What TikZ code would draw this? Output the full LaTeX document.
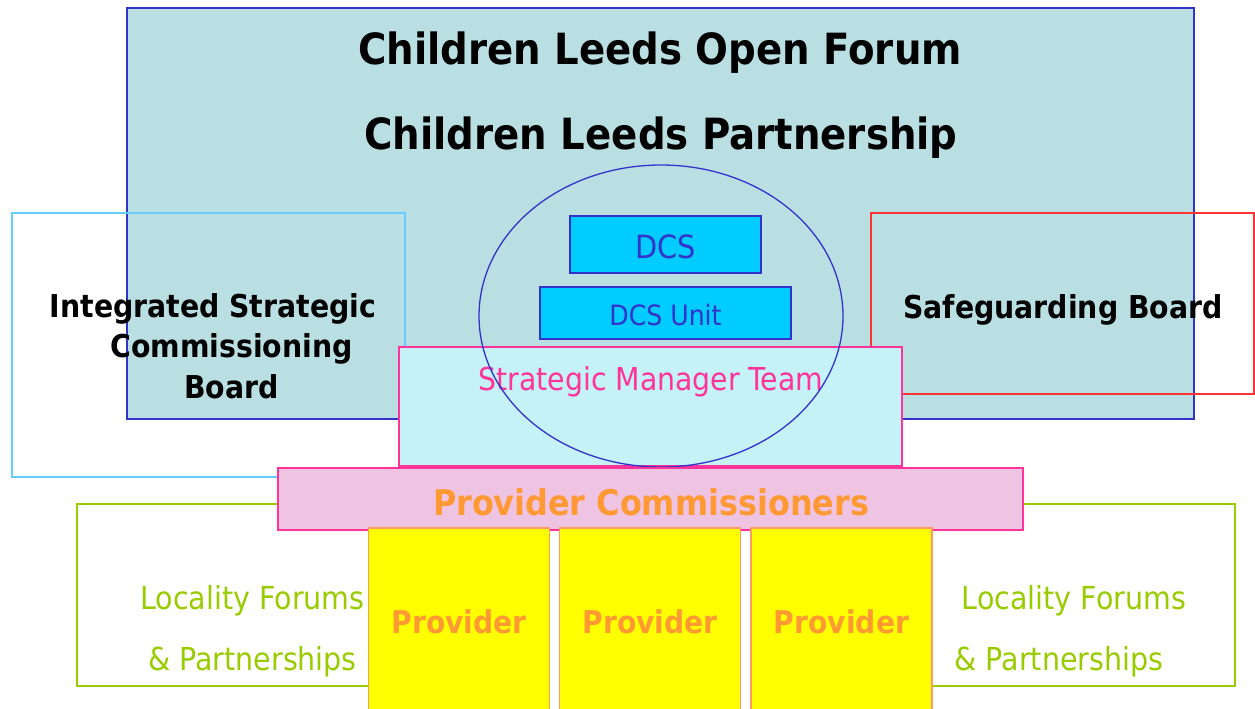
\documentclass[tikz,border=0pt]{standalone}
\usepackage{fontspec}
\setmainfont{DejaVu Sans Condensed}
\usetikzlibrary{shapes.geometric}

\definecolor{forumfill}{HTML}{BADFE3}
\definecolor{forumline}{HTML}{3333CC}
\definecolor{iscline}{HTML}{66CCFF}
\definecolor{safeline}{HTML}{FF3333}
\definecolor{dcsfill}{HTML}{00CCFF}
\definecolor{smtfill}{HTML}{C5F2F7}
\definecolor{pinkline}{HTML}{FF3399}
\definecolor{pcfill}{HTML}{EFC4E3}
\definecolor{orangetext}{HTML}{FF9933}
\definecolor{provline}{HTML}{FF9966}
\definecolor{provfill}{HTML}{FFFF00}
\definecolor{locgreen}{HTML}{99CC00}

\newcommand{\fsz}[2]{\fontsize{#1}{#2}\selectfont}

\begin{document}
\begin{tikzpicture}[x=1pt,y=-1pt,line width=1.3pt,
  box/.style={draw,rectangle,inner sep=0pt,outer sep=0pt},
  label/.style={inner sep=0pt,anchor=base}]
 \useasboundingbox (0,0) rectangle (1255,709);

 % top forum / partnership
 \node[box,draw=forumline,fill=forumfill,minimum width=1067pt,minimum height=411pt] (forum) at (660.5,213.5) {};
 \node[label,font=\fsz{43}{50}\bfseries] (openforum) at (660,64) {Children Leeds Open Forum};
 \node[label,font=\fsz{43}{50}\bfseries] (partnership) at (661,149) {Children Leeds Partnership};

 % side boards
 \node[box,draw=iscline,minimum width=393pt,minimum height=264pt] (isc) at (208.5,345) {};
 \node[inner sep=0pt,align=center,font=\fsz{31.5}{40.5}\bfseries] (isctext) at (231.5,346)
  {Integrated Strategic\hspace*{37pt}\\Commissioning\\Board};
 \node[box,draw=safeline,minimum width=383pt,minimum height=181pt] (safe) at (1062.5,303.5) {};
 \node[label,font=\fsz{31.5}{40}\bfseries] (safetext) at (1063,318) {Safeguarding Board};

 % DCS
 \node[box,draw=forumline,fill=dcsfill,minimum width=191pt,minimum height=57pt] (dcs) at (665.5,244.5) {};
 \node[label,text=forumline,font=\fsz{32}{38}] (dcstext) at (665.5,258) {DCS};
 \node[box,draw=forumline,fill=dcsfill,minimum width=251pt,minimum height=52pt] (dcsunit) at (665.5,313) {};
 \node[label,text=forumline,font=\fsz{28}{34}] (dcsunittext) at (665.5,325) {DCS Unit};

 % strategic manager team
 \node[box,draw=pinkline,fill=smtfill,minimum width=503pt,minimum height=119pt] (smt) at (650.5,406.5) {};
 \node[label,text=pinkline,font=\fsz{31.5}{38}] (smttext) at (651,390) {Strategic Manager Team};
 \node[draw=forumline,ellipse,inner sep=0pt,minimum width=364pt,minimum height=302pt] (ring) at (661,316) {};

 % locality forums
 \node[box,draw=locgreen,minimum width=323pt,minimum height=182pt] (locleft) at (238.5,595) {};
 \node[box,draw=locgreen,minimum width=335pt,minimum height=182pt] (locright) at (1067.5,595) {};
 \node[label,text=locgreen,font=\fsz{31.7}{38}] (locLa) at (252.5,609) {Locality Forums};
 \node[label,text=locgreen,font=\fsz{31.7}{38}] (locLb) at (252.5,670) {\& Partnerships};
 \node[label,text=locgreen,font=\fsz{31.7}{38}] (locRa) at (1074,609) {Locality Forums};
 \node[label,text=locgreen,font=\fsz{31.7}{38}] (locRb) at (1059,670) {\& Partnerships};

 % provider commissioners
 \node[box,draw=pinkline,fill=pcfill,minimum width=745pt,minimum height=62pt] (pc) at (650.5,499) {};
 \node[label,text=orangetext,font=\fsz{35.4}{42}\bfseries] (pctext) at (651,515) {Provider Commissioners};

 % providers
 \foreach \px/\pname in {459/provA,650/provB,841.5/provC}{
  \node[box,draw=provline,fill=provfill,minimum width=181pt,minimum height=192pt] (\pname) at (\px,624) {};
  \node[label,text=orangetext,font=\fsz{31.3}{38}\bfseries] (\pname text) at (\px,633) {Provider};
 }
\end{tikzpicture}
\end{document}
